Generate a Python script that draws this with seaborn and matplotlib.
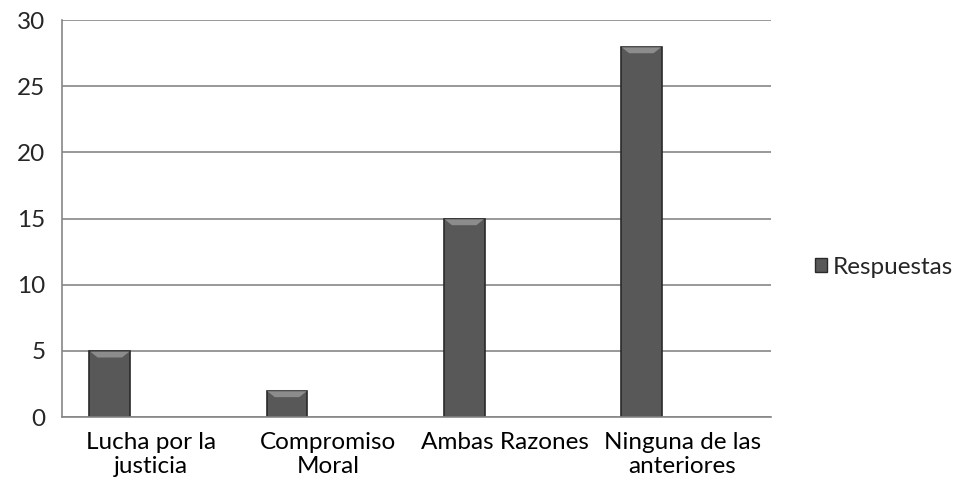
import numpy as np
import pandas as pd
import matplotlib.pyplot as plt
import seaborn as sns
from matplotlib.patches import Patch, Polygon

# Data
categorias = ['Lucha por la\njusticia', 'Compromiso\nMoral', 'Ambas Razones', 'Ninguna de las\nanteriores']
respuestas = [5, 2, 15, 28]
serie = 'Respuestas'

# two empty placeholder series keep the Excel-like dodge position
df = pd.concat([
    pd.DataFrame({'categoria': categorias, 'valor': respuestas, 'serie': serie}),
    pd.DataFrame({'categoria': categorias, 'valor': 0, 'serie': '_b'}),
    pd.DataFrame({'categoria': categorias, 'valor': 0, 'serie': '_c'}),
])

sns.set_style('white')
plt.rcParams['font.family'] = ['Lato', 'DejaVu Sans']
fs = 17.5

fig = plt.figure(figsize=(9.61, 5.04), dpi=100)
ax = fig.add_axes([0.0645, 0.1726, 0.7375, 0.7874])

sns.barplot(data=df, x='categoria', y='valor', hue='serie',
            hue_order=[serie, '_b', '_c'], width=0.69,
            palette=['#585858', '#585858', '#585858'],
            edgecolor='#2a2a2a', linewidth=1.2, legend=False, ax=ax)

# hide the placeholder bars, add a light bevel on top of the real ones
for p in list(ax.patches):
    if p.get_height() == 0:
        p.set_visible(False)
        continue
    x0, w, h = p.get_x(), p.get_width(), p.get_height()
    bev_x, bev_y = w * 0.2, 0.5
    ax.add_patch(Polygon([(x0 + 0.004, h - 0.05), (x0 + w - 0.004, h - 0.05),
                          (x0 + w - bev_x, h - bev_y), (x0 + bev_x, h - bev_y)],
                         closed=True, facecolor='#8c8c8c', edgecolor='none', zorder=p.get_zorder() + 0.1))

ax.set_xlim(-0.5, 3.5)
ax.set_ylim(0, 30)
ax.set_yticks(range(0, 31, 5))
ax.grid(axis='y', color='#868686', linewidth=1.2)
ax.set_axisbelow(True)
for s in ['top', 'right']:
    ax.spines[s].set_visible(False)
for s in ['left', 'bottom']:
    ax.spines[s].set_color('#868686')
    ax.spines[s].set_linewidth(1.2)

ax.set_xticks(np.arange(-0.5, 4, 1), minor=True)
ax.tick_params(axis='x', which='major', length=0, labelsize=fs, pad=11, colors='black')
ax.tick_params(axis='x', which='minor', length=6, color='#868686', width=1.2)
ax.tick_params(axis='y', length=6, color='#868686', width=1.2, labelsize=fs, pad=6)
for t in ax.get_xticklabels():
    t.set_linespacing(1.15)
ax.set_xlabel('')
ax.set_ylabel('')

ax.legend(handles=[Patch(facecolor='#585858', edgecolor='#2a2a2a', label=serie)],
          loc='center left', bbox_to_anchor=(1.062, 0.378), frameon=False,
          borderpad=0, borderaxespad=0,
          fontsize=fs, handlelength=0.5, handleheight=0.5, handletextpad=0.25)

fig.savefig('out.png', dpi=100)
